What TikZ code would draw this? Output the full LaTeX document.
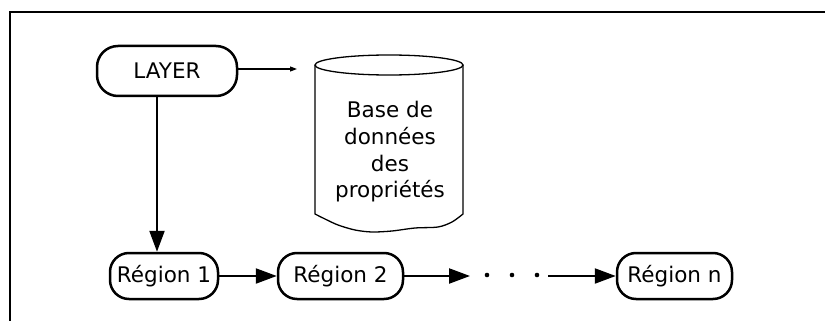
\documentclass[tikz,border=0pt]{standalone}
\usepackage{fontspec}
\setmainfont{DejaVu Sans}
\usetikzlibrary{arrows.meta}
\begin{document}
\begin{tikzpicture}[x=1pt,y=-1pt,
  pill/.style={draw, line width=2.5pt, rounded corners=19pt, inner sep=0pt,
    minimum height=46pt, font=\fontsize{21.5}{26.7}\selectfont},
  thickarrow/.style={line width=2.2pt, -{Triangle[length=21pt,width=15pt]}},
  thinarrow/.style={line width=1.1pt, -{Triangle[length=7pt,width=5pt]}},
  framepen/.style={line width=2.4pt},
  cylpen/.style={line width=1.3pt}]
\useasboundingbox (0,0) rectangle (825,321);
\draw[framepen] (10,321) -- (10,12) -- (825,12);

\node[pill, rounded corners=21pt, minimum width=140pt, minimum height=50pt] (layer) at (167,71) {LAYER};
\node[pill, minimum width=108pt] (r1) at (164,276) {Région 1};
\node[pill, minimum width=125pt] (r2) at (340.5,276) {Région 2};
\node[pill, minimum width=115pt] (rn) at (674.5,276) {Région n};

% cylinder
\draw[cylpen] (315,65) -- plot[smooth, tension=0.5] coordinates {(315,214) (325,219) (338,225) (355,230) (372,232) (392,231) (415,228) (438,227) (452,222) (463,214)} -- (463,65);
\draw[cylpen] (389,65) ellipse [x radius=74pt, y radius=10pt];
\node[font=\fontsize{21.5}{26.7}\selectfont, align=center, inner sep=0pt] (db) at (390,152) {Base de\\données\\des\\propriétés};

% connectors
\coordinate (dbin) at (297,69);
\draw[thinarrow] (layer.east |- dbin) -- (dbin);
\coordinate (vx) at (157,0);
\draw[thickarrow] (layer.south -| vx) -- (r1.north -| vx);
\draw[thickarrow] (r1.east) -- (r2.west);
\coordinate (a2) at (470,276);
\draw[thickarrow] (r2.east) -- (a2);
\fill (487,275) circle (2.3pt) (512,275) circle (2.3pt) (537,275) circle (2.3pt);
\coordinate (a3) at (548,276);
\draw[thickarrow] (a3) -- (rn.west);
\end{tikzpicture}
\end{document}
